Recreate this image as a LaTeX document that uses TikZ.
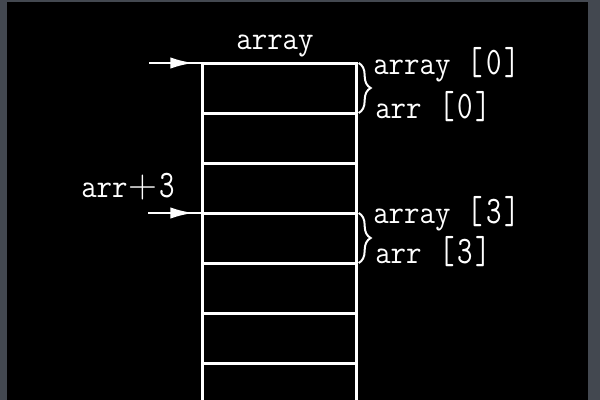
\documentclass[tikz,border=0pt]{standalone}
\usepackage{graphicx}
\usetikzlibrary{arrows.meta,decorations.pathreplacing}
\definecolor{framegray}{RGB}{67,72,80}
\newcommand{\tallpart}[1]{\scalebox{1}[1.3]{#1}}
\newcommand{\txtup}[1]{\scalebox{1}[1.1]{#1}}
\newcommand{\idx}[1]{\kern1.5pt\tallpart{[\kern2pt#1\kern2pt]}}
\begin{document}
\begin{tikzpicture}[x=0.75pt,y=-0.75pt,
  cell/.style={draw=white, line width=2.25pt, minimum width=115.5pt, minimum height=37.5pt, inner sep=0pt, outer sep=0pt, anchor=north west},
  wline/.style={draw=white, line width=2.25pt},
  lbl/.style={text=white, font=\fontsize{22.5}{27}\selectfont\ttfamily, inner sep=0pt, anchor=base west},
  ptr/.style={draw=white, line width=1.5pt},
  tiphead/.style={-{Latex[length=17pt,width=8.5pt]}, draw=white, fill=white, line width=1.5pt},
  brc/.style={draw=white, line width=1.5pt, decorate, decoration={brace, amplitude=9pt, raise=2pt}}]
\useasboundingbox (0,0) rectangle (600,400);
\fill[framegray] (0,0) rectangle (600,400);
\fill[black] (7,2) rectangle (588,400);
% memory cells
\foreach \i in {0,...,5} {
  \node[cell] (c\i) at (202,{63+50*\i}) {};
}
\coordinate (b1) at (202,403);
\coordinate (b2) at (356,403);
\draw[wline] (c5.south west) -- (b1);
\draw[wline] (c5.south east) -- (b2);
% top label
\node[lbl, anchor=base] (top) at (275,49) {\txtup{array}};
% pointer arrows
\coordinate (s0) at (149,63);
\coordinate (h0) at (193,63);
\draw[ptr] (s0) -- (c0.north west);
\draw[tiphead] (s0) -- (h0);
\coordinate (s3) at (148,213);
\coordinate (h3) at (193,213);
\draw[ptr] (s3) -- (c3.north west);
\draw[tiphead] (s3) -- (h3);
\node[lbl] (p3) at (81,197) {\txtup{arr}\makebox[1.05em]{\rmfamily\fontsize{30}{30}\selectfont +}\tallpart{3}};
% braces
\draw[brc] (c0.north east) -- (c0.south east);
\draw[brc] (c3.north east) -- (c3.south east);
% element labels
\node[lbl] (a0) at (373,74) {\txtup{array} \idx{0}};
\node[lbl] (r0) at (375,118) {\txtup{arr} \idx{0}};
\node[lbl] (a3) at (373,223) {\txtup{array} \idx{3}};
\node[lbl] (r3) at (375,263) {\txtup{arr} \idx{3}};
\end{tikzpicture}
\end{document}
